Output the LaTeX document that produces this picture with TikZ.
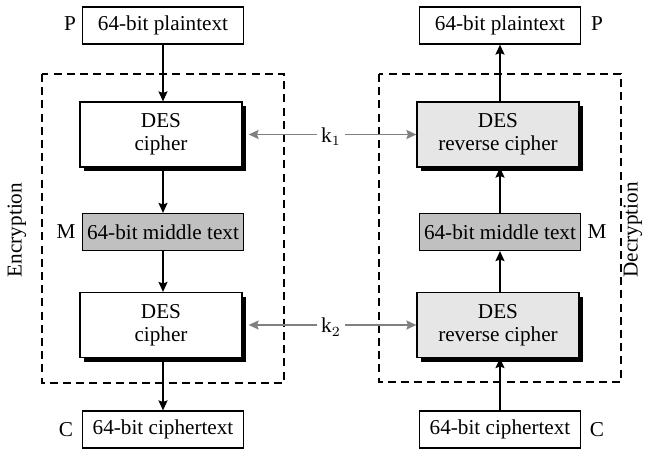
\documentclass[tikz,border=0pt]{standalone}
\usepackage{fontspec}
\setmainfont{Liberation Serif}
\usetikzlibrary{arrows.meta,shadows}
\definecolor{midgray}{RGB}{192,192,192}
\definecolor{lightgray}{RGB}{230,230,230}
\definecolor{keygray}{RGB}{128,128,128}
\begin{document}
\begin{tikzpicture}[x=0.5pt,y=-0.5pt,
  every node/.style={font=\fontsize{10.6}{11.5}\selectfont, inner sep=0pt},
  textbox/.style={draw=black, line width=0.6pt, fill=white, minimum width=80.5pt, minimum height=18.5pt},
  midbox/.style={textbox, fill=midgray},
  desbox/.style={draw=black, line width=0.6pt, fill=white, minimum width=81pt, minimum height=32.5pt, align=center,
     drop shadow={shadow xshift=2pt, shadow yshift=-2pt, fill=black, opacity=1}},
  revbox/.style={desbox, fill=lightgray},
  frame/.style={draw=black, line width=1pt, dash pattern=on 4pt off 2.6pt},
  flow/.style={draw=black, line width=0.8pt, -{Stealth[length=5pt,width=4.5pt,inset=0.8pt]}},
  keyarrow/.style={draw=keygray, line width=0.8pt, -{Stealth[length=5pt,width=4.5pt,inset=0.8pt]}},
  lbl/.style={anchor=center}
]
\useasboundingbox (0,0) rectangle (649,450);
% frames
\draw[frame] (42,74) rectangle (284,383);
\draw[frame] (379,74) rectangle (621,382);
% left column
\node[textbox] (pL) at (163,25.5) {64-bit plaintext};
\node[desbox] (c1) at (161,134.5) {DES\\cipher};
\node[midbox] (mL) at (163,232) {64-bit middle text};
\node[desbox] (c2) at (161,325) {DES\\cipher};
\node[textbox] (cL) at (163,429.5) {64-bit ciphertext};
% right column
\node[textbox] (pR) at (500,25.5) {64-bit plaintext};
\node[revbox] (r1) at (498,134.5) {DES\\reverse cipher};
\node[midbox] (mR) at (500,232) {64-bit middle text};
\node[revbox] (r2) at (498,325) {DES\\reverse cipher};
\node[textbox] (cR) at (500,429.5) {64-bit ciphertext};
% side labels
\node[lbl] (P1) at (70,24) {P};
\node[lbl] (M1) at (66,232) {M};
\node[lbl] (C1) at (66,430) {C};
\node[lbl] (P2) at (597,24) {P};
\node[lbl] (M2) at (597,232) {M};
\node[lbl] (C2) at (597,430) {C};
\node[lbl, rotate=90] (enc) at (17,230) {Encryption};
\node[lbl, rotate=90] (dec) at (633,230) {Decryption};
% keys
\node[lbl, inner xsep=2pt] (k1) at (331,137) {k$_1$};
\node[lbl, inner xsep=2pt] (k2) at (331,327) {k$_2$};
\draw[keyarrow] (k1.west |- c1.east) -- ([xshift=3pt]c1.east);
\draw[keyarrow] (k1.east |- r1.west) -- (r1.west);
\draw[keyarrow] (k2.west |- c2.east) -- ([xshift=3pt]c2.east);
\draw[keyarrow] (k2.east |- r2.west) -- (r2.west);
% flows
\draw[flow] (pL.south) -- (c1.north -| pL.south);
\draw[flow] (c1.south -| pL.south) -- (mL.north);
\draw[flow] (mL.south) -- (c2.north -| mL.south);
\draw[flow] (c2.south -| mL.south) -- (cL.north);
\draw[flow] (cR.north) -- (r2.south -| cR.north);
\draw[flow] (r2.north -| cR.north) -- (mR.south);
\draw[flow] (mR.north) -- (r1.south -| mR.north);
\draw[flow] (r1.north -| mR.north) -- (pR.south);
\end{tikzpicture}
\end{document}
